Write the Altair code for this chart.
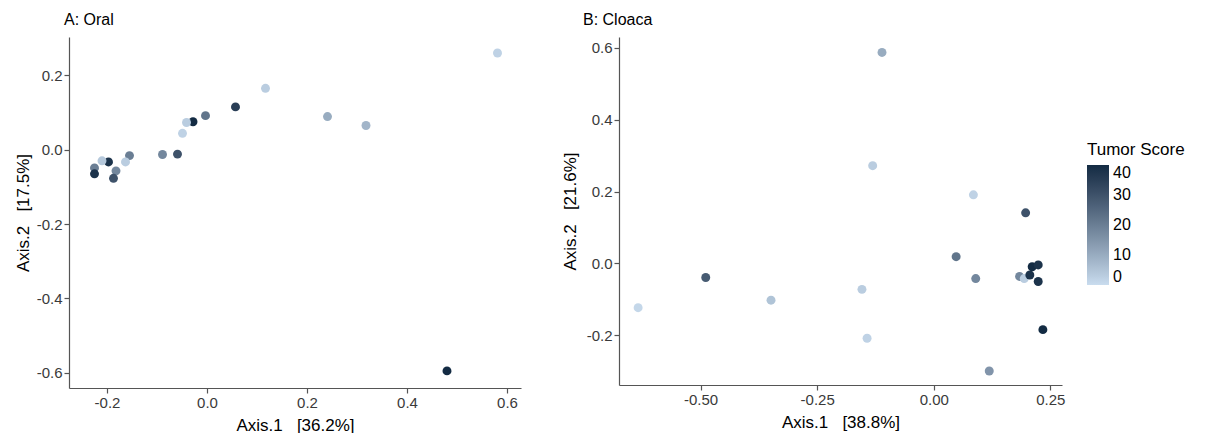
import altair as alt
import pandas as pd

# ---- Data ----
oral_axis1 = [0.480, 0.581, 0.117, 0.057, -0.003, -0.028, -0.041, -0.049, 0.241, 0.318,
              -0.059, -0.089, -0.155, -0.163, -0.182, -0.187, -0.197, -0.210, -0.225, -0.225]
oral_axis2 = [-0.595, 0.260, 0.165, 0.115, 0.0915, 0.075, 0.073, 0.044, 0.089, 0.065,
              -0.012, -0.013, -0.016, -0.033, -0.057, -0.077, -0.033, -0.030, -0.049, -0.065]
oral_score = [40, 2, 3, 35, 22, 40, 3, 2, 10, 8,
              30, 18, 20, 3, 18, 30, 38, 4, 20, 38]

cloaca_axis1 = [-0.111, -0.131, 0.085, 0.197, 0.048, 0.090, 0.184, 0.194, 0.206, 0.211,
                0.224, 0.224, 0.234, 0.119, -0.489, -0.634, -0.349, -0.154, -0.143]
cloaca_axis2 = [0.587, 0.272, 0.191, 0.141, 0.019, -0.042, -0.036, -0.042, -0.032, -0.009,
                -0.004, -0.050, -0.184, -0.299, -0.039, -0.123, -0.102, -0.072, -0.208]
cloaca_score = [10, 3, 2, 30, 22, 18, 18, 3, 38, 40,
                38, 38, 40, 15, 28, 1, 5, 3, 2]

oral_xticks = [-0.2, 0.0, 0.2, 0.4, 0.6]
oral_yticks = [-0.6, -0.4, -0.2, 0.0, 0.2]
cloaca_xticks = [-0.5, -0.25, 0.0, 0.25]
cloaca_yticks = [-0.2, 0.0, 0.2, 0.4, 0.6]

oral = pd.DataFrame({"a1": oral_axis1, "a2": oral_axis2, "score": oral_score})
cloaca = pd.DataFrame({"a1": cloaca_axis1, "a2": cloaca_axis2, "score": cloaca_score})

FONT = "Liberation Sans"
SP = "\u00a0\u00a0\u00a0"

color = alt.Color(
    "score:Q",
    title="Tumor Score",
    scale=alt.Scale(domain=[0, 40], range=["#c9dcee", "#132b43"], interpolate="lab"),
    legend=alt.Legend(
        orient="none", legendX=1018, legendY=105,
        gradientLength=120, gradientThickness=22,
        values=[0, 10, 20, 30, 40],
        titleFontSize=17, titleFontWeight="normal", titleColor="#000000",
        labelFontSize=16, labelColor="#000000", titlePadding=6, labelOffset=4,
    ),
)


def lab(fmt):
    return "replace(format(datum.value, '%s'), '\u2212', '-')" % fmt


def panel(df, title, dx, xdom, ydom, xt, yt, xfmt, yfmt, xtitle, ytitle, w, h, ytp):
    return alt.Chart(df, title=alt.TitleParams(
        title, anchor="start", frame="group", fontSize=16, fontWeight="normal",
        font=FONT, color="#000000", dx=dx, offset=9)
    ).mark_circle(size=80, opacity=1).encode(
        x=alt.X("a1:Q", title=xtitle,
                scale=alt.Scale(domain=xdom, nice=False, zero=False),
                axis=alt.Axis(values=xt, labelExpr=lab(xfmt), titlePadding=7)),
        y=alt.Y("a2:Q", title=ytitle,
                scale=alt.Scale(domain=ydom, nice=False, zero=False),
                axis=alt.Axis(values=yt, labelExpr=lab(yfmt), titlePadding=ytp)),
        color=color,
    ).properties(width=w, height=h)


left = panel(oral, "A: Oral", -5, [-0.276, 0.628], [-0.641, 0.303],
             oral_xticks, oral_yticks, ".1f", ".1f",
             "Axis.1" + SP + "[36.2%]", "Axis.2" + SP + "[17.5%]", 452, 351, 4)
right = panel(cloaca, "B: Cloaca", -36, [-0.675, 0.275], [-0.338, 0.63],
              cloaca_xticks, cloaca_yticks, ".2f", ".1f",
              "Axis.1" + SP + "[38.8%]", "Axis.2" + SP + "[21.6%]", 443, 348, 7)

chart = alt.hconcat(left, right, spacing=40).properties(
    padding={"left": 14, "top": 12, "right": 5, "bottom": 0},
    background="#ffffff",
).configure_view(stroke=None).configure_axis(
    grid=False, domainColor="#555555", tickColor="#555555", domainWidth=1.2,
    tickWidth=1.2, tickSize=5, labelFont=FONT, titleFont=FONT,
    labelFontSize=15, labelColor="#3a3a3a", labelPadding=2,
    titleFontSize=17, titleFontWeight="normal", titleColor="#000000",
).configure_legend(labelFont=FONT, titleFont=FONT)

chart.save("out.html", embed_options={"renderer": "svg", "actions": False})
